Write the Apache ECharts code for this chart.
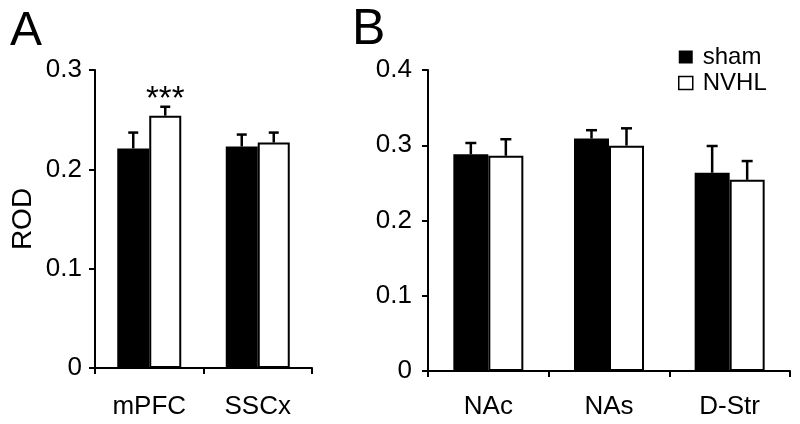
<!DOCTYPE html>
<html>
<head>
<meta charset="utf-8">
<script src="https://cdn.jsdelivr.net/npm/echarts@6/dist/echarts.min.js"></script>
<style>html,body{margin:0;padding:0;background:#fff}#c{width:800px;height:424px}</style>
</head>
<body>
<div id="c"></div>
<script>
const categoriesA = ['mPFC', 'SSCx'];
const shamA = [0.221, 0.223];
const shamErrA = [0.016, 0.012];
const nvhlA = [0.254, 0.227];
const nvhlErrA = [0.009, 0.010];
const sigA = ['***', ''];

const categoriesB = ['NAc', 'NAs', 'D-Str'];
const shamB = [0.288, 0.309, 0.2635];
const shamErrB = [0.015, 0.011, 0.0355];
const nvhlB = [0.286, 0.2995, 0.254];
const nvhlErrB = [0.022, 0.023, 0.025];

const yMaxA = 0.3, yMaxB = 0.4, yStep = 0.1;

const FONT = '"Liberation Sans", Arial, sans-serif';
const chart = echarts.init(document.getElementById('c'));

function errRender(sign, barW, capW, sig) {
  return function (params, api) {
    const i = api.value(0), m = api.value(1), e = api.value(2);
    const base = api.coord([i, m]);
    const top = api.coord([i, m + e]);
    const cx = base[0] + sign * barW / 2;
    const style = { stroke: '#000', lineWidth: 2.5 };
    const children = [
      { type: 'line', shape: { x1: cx, y1: base[1], x2: cx, y2: top[1] }, style: style },
      { type: 'line', shape: { x1: cx - capW / 2, y1: top[1], x2: cx + capW / 2, y2: top[1] }, style: style }
    ];
    if (sig && sig[params.dataIndex]) {
      children.push({ type: 'text', x: cx, y: top[1] + 10,
        style: { text: sig[params.dataIndex], fontSize: 33, fontFamily: FONT, fill: '#000', align: 'center', verticalAlign: 'bottom' } });
    }
    return { type: 'group', children: children };
  };
}

const axisLine = { show: true, lineStyle: { color: '#000', width: 2 } };
const axisTick = { show: true, length: 6, lineStyle: { color: '#000', width: 2 } };

function xAx(cats, gi, margin) {
  return { type: 'category', gridIndex: gi, data: cats, axisLine: axisLine, axisTick: axisTick,
    axisLabel: { fontSize: 26, fontFamily: FONT, color: '#000', margin: margin }, splitLine: { show: false } };
}
function yAx(max, gi, margin, name) {
  return { type: 'value', gridIndex: gi, min: 0, max: max, interval: yStep, axisLine: axisLine,
    axisTick: axisTick, splitLine: { show: false },
    axisLabel: { fontSize: 26, fontFamily: FONT, color: '#000', margin: margin },
    name: name || '', nameLocation: 'middle', nameGap: 58,
    nameTextStyle: { fontSize: 28, fontFamily: FONT, color: '#000' } };
}

const shamStyle = { color: '#000' };
const nvhlStyle = { color: '#fff', borderColor: '#000', borderWidth: 2 };

chart.setOption({
  animation: false,
  backgroundColor: '#fff',
  title: [
    { text: 'A', left: 5, top: 3, textStyle: { fontSize: 48, fontWeight: 'normal', fontFamily: FONT, color: '#000' } },
    { text: 'B', left: 347, top: 0, textStyle: { fontSize: 50, fontWeight: 'normal', fontFamily: FONT, color: '#000' } }
  ],
  legend: {
    orient: 'vertical', left: 678, top: 45, padding: 0, itemWidth: 14, itemHeight: 13, itemGap: 2,
    icon: 'rect', textStyle: { fontSize: 24, fontFamily: FONT, color: '#000', padding: [0, 0, 0, 5] },
    data: [
      { name: 'sham', itemStyle: { color: '#000' } },
      { name: 'NVHL', itemStyle: { color: '#fff', borderColor: '#000', borderWidth: 1.5 } }
    ]
  },
  grid: [
    { left: 95, top: 70, width: 217, height: 298 },
    { left: 428, top: 70, width: 362, height: 301 }
  ],
  xAxis: [xAx(categoriesA, 0, 26), xAx(categoriesB, 1, 23)],
  yAxis: [yAx(yMaxA, 0, 13, 'ROD'), yAx(yMaxB, 1, 16)],
  series: [
    { type: 'bar', name: 'sham', xAxisIndex: 0, yAxisIndex: 0, data: shamA, barWidth: 32, barGap: '0%', itemStyle: shamStyle },
    { type: 'bar', name: 'NVHL', xAxisIndex: 0, yAxisIndex: 0, data: nvhlA, barWidth: 32, barGap: '0%', itemStyle: nvhlStyle },
    { type: 'bar', name: 'sham', xAxisIndex: 1, yAxisIndex: 1, data: shamB, barWidth: 35, barGap: '0%', itemStyle: shamStyle },
    { type: 'bar', name: 'NVHL', xAxisIndex: 1, yAxisIndex: 1, data: nvhlB, barWidth: 35, barGap: '0%', itemStyle: nvhlStyle },
    { type: 'custom', xAxisIndex: 0, yAxisIndex: 0, z: 5, renderItem: errRender(-1, 32, 10),
      data: shamA.map((v, i) => [i, v, shamErrA[i]]) },
    { type: 'custom', xAxisIndex: 0, yAxisIndex: 0, z: 5, renderItem: errRender(1, 32, 10, sigA),
      data: nvhlA.map((v, i) => [i, v, nvhlErrA[i]]) },
    { type: 'custom', xAxisIndex: 1, yAxisIndex: 1, z: 5, renderItem: errRender(-1, 35, 11),
      data: shamB.map((v, i) => [i, v, shamErrB[i]]) },
    { type: 'custom', xAxisIndex: 1, yAxisIndex: 1, z: 5, renderItem: errRender(1, 35, 11),
      data: nvhlB.map((v, i) => [i, v, nvhlErrB[i]]) }
  ]
});
</script>
</body>
</html>
